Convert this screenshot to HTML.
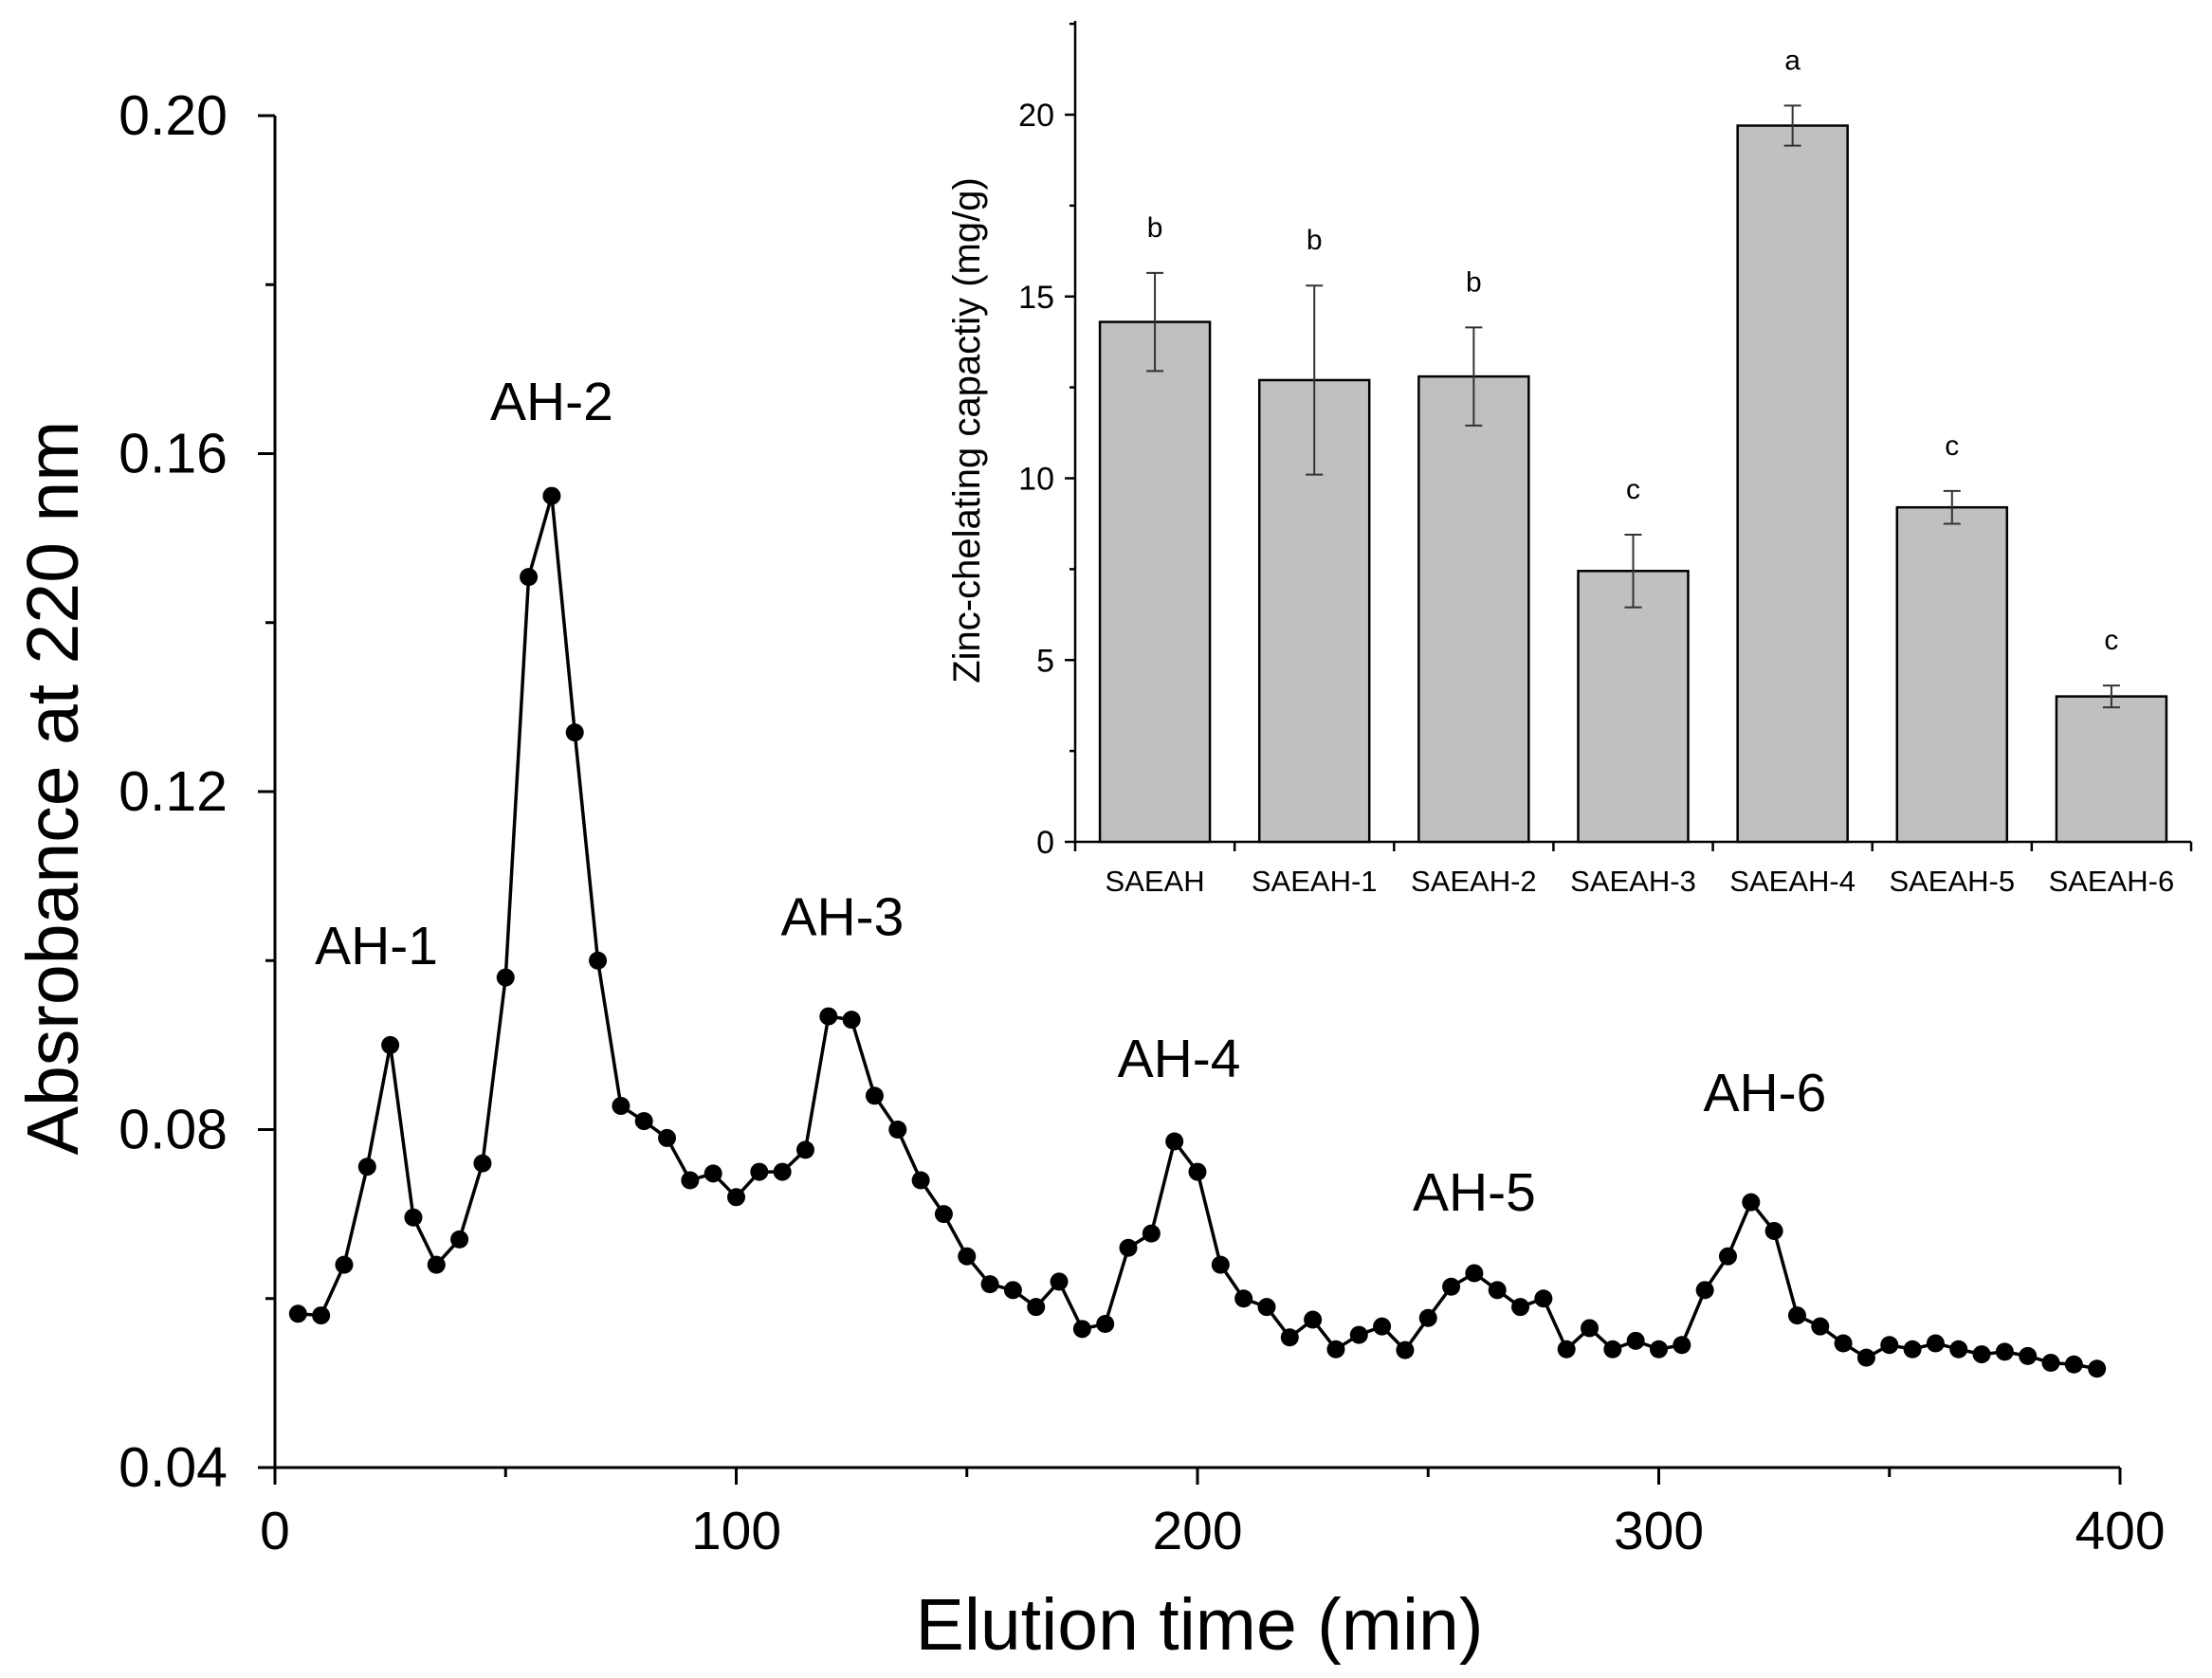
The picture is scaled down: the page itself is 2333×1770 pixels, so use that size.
<!DOCTYPE html>
<html><head><meta charset="utf-8"><style>
html,body{margin:0;padding:0;background:#fff;}
svg{display:block;font-family:"Liberation Sans",Arial,sans-serif;}
</style></head><body>
<svg id="chart" width="2333" height="1770" viewBox="0 0 2333 1770" xmlns="http://www.w3.org/2000/svg">
<g id="main"></g>
<g id="inset"></g>
</svg>
<script>
const times=[5,10,15,20,25,30,35,40,45,50,55,60,65,70,75,80,85,90,95,100,105,110,115,120,125,130,135,140,145,150,155,160,165,170,175,180,185,190,195,200,205,210,215,220,225,230,235,240,245,250,255,260,265,270,275,280,285,290,295,300,305,310,315,320,325,330,335,340,345,350,355,360,365,370,375,380,385,390,395];
const absorbance=[0.0582,0.058,0.064,0.0756,0.090,0.0696,0.064,0.067,0.076,0.098,0.1454,0.155,0.127,0.100,0.0828,0.081,0.079,0.074,0.0748,0.072,0.075,0.075,0.0776,0.0934,0.093,0.084,0.080,0.074,0.070,0.065,0.0617,0.061,0.059,0.062,0.0564,0.057,0.066,0.0677,0.0786,0.075,0.064,0.060,0.059,0.0554,0.0575,0.054,0.0557,0.0567,0.0539,0.0577,0.0614,0.063,0.061,0.059,0.060,0.054,0.0565,0.054,0.055,0.054,0.0545,0.061,0.065,0.0714,0.068,0.058,0.0567,0.0547,0.053,0.0545,0.054,0.0547,0.054,0.0534,0.0537,0.0532,0.0524,0.0522,0.0517];
const xTicks=[0,100,200,300,400];
const yTicks=[0.04,0.08,0.12,0.16,0.20];
const peakLabels=["AH-1","AH-2","AH-3","AH-4","AH-5","AH-6"];
const peakX=[22,60,123,196,260,323];
const peakY=[0.0996,0.164,0.103,0.0862,0.0704,0.0822];

const categories=["SAEAH","SAEAH-1","SAEAH-2","SAEAH-3","SAEAH-4","SAEAH-5","SAEAH-6"];
const zinc=[14.3,12.7,12.8,7.45,19.7,9.2,4.0];
const zincErr=[1.35,2.6,1.35,1.0,0.55,0.45,0.3];
const letters=["b","b","b","c","a","c","c"];
const insetTicks=[0,5,10,15,20];

const NS="http://www.w3.org/2000/svg";
function mk(parent,tag,attrs,text){const e=document.createElementNS(NS,tag);for(const k in attrs)e.setAttribute(k,attrs[k]);if(text!==undefined)e.textContent=text;parent.appendChild(e);return e;}

const X=v=>290+(v/400)*(2236-290);
const Y=v=>1548-(v-0.04)/0.16*(1548-122);
const m=document.getElementById('main');
let e;
e=mk(m,'line',{x1:X(0),y1:1548,x2:2236,y2:1548,stroke:'#000','stroke-width':3});


e=mk(m,'line',{x1:X(0),y1:1548,x2:X(0),y2:122,stroke:'#000','stroke-width':3});


for(let v=0;v<=400;v+=50){mk(m,'line',{x1:X(v),y1:1548,x2:X(v),y2:1548+(v%100?10:18),stroke:'#000','stroke-width':3});}
xTicks.forEach(v=>{e=mk(m,'text',{x:X(v),y:1634,'font-size':57,'text-anchor':'middle'},String(v));

});
for(let v=0.04;v<=0.2001;v+=0.02){const maj=Math.round(v*100)%4===0;mk(m,'line',{x1:X(0),y1:Y(v),x2:X(0)-(maj?18:10),y2:Y(v),stroke:'#000','stroke-width':3});}
yTicks.forEach(v=>{e=mk(m,'text',{x:X(0)-50,y:Y(v)+20,'font-size':59,'text-anchor':'end'},v.toFixed(2));

});
e=mk(m,'text',{x:1265,y:1740,'font-size':77,'text-anchor':'middle'},'Elution time (min)');


e=mk(m,'text',{x:0,y:0,'font-size':77,'text-anchor':'middle',transform:'translate(82,831) rotate(-90)'},'Absrobance at 220 nm');


e=mk(m,'polyline',{points:times.map((t,i)=>X(t)+','+Y(absorbance[i])).join(' '),fill:'none',stroke:'#000','stroke-width':3.5});


times.forEach((t,i)=>{e=mk(m,'circle',{cx:X(t),cy:Y(absorbance[i]),r:9.5,fill:'#000'});

});
peakLabels.forEach((l,i)=>{e=mk(m,'text',{x:X(peakX[i]),y:Y(peakY[i]),'font-size':57,'text-anchor':'middle'},l);

});

const g=document.getElementById('inset');
const L=1134,R=2311,B=888,T=22;
const IY=v=>B-v/20*(B-121);
const step=(R-L)/categories.length;
mk(g,'rect',{x:L-150,y:T-10,width:R-L+160,height:B-T+100,fill:'#fff'});
e=mk(g,'line',{x1:L,y1:B,x2:R,y2:B,stroke:'#000','stroke-width':2.5});


e=mk(g,'line',{x1:L,y1:B,x2:L,y2:T,stroke:'#000','stroke-width':2.5});


for(let v=0;v<=22.5;v+=2.5){mk(g,'line',{x1:L,y1:IY(v),x2:L-(v%5?6:11),y2:IY(v),stroke:'#000','stroke-width':2.5});}
insetTicks.forEach(v=>{e=mk(g,'text',{x:L-22,y:IY(v)+12,'font-size':34,'text-anchor':'end'},String(v));

});
e=mk(g,'text',{x:0,y:0,'font-size':40,'text-anchor':'middle',transform:'translate(1033,454) rotate(-90)'},'Zinc-chelating capactiy (mg/g)');


for(let i=0;i<=categories.length;i++){mk(g,'line',{x1:L+step*i,y1:B,x2:L+step*i,y2:B+10,stroke:'#000','stroke-width':2.5});}
categories.forEach((c,i)=>{const cx=L+step*(i+0.5),bw=116;
e=mk(g,'rect',{x:cx-bw/2,y:IY(zinc[i]),width:bw,height:B-IY(zinc[i]),fill:'#c0c0c0',stroke:'#000','stroke-width':2.5});


const t=IY(zinc[i]+zincErr[i]),b=IY(zinc[i]-zincErr[i]);
e=mk(g,'path',{d:`M${cx},${t}V${b}M${cx-9},${t}H${cx+9}M${cx-9},${b}H${cx+9}`,stroke:'#333','stroke-width':2,fill:'none'});


e=mk(g,'text',{x:cx,y:t-38,'font-size':30,'text-anchor':'middle'},letters[i]);


e=mk(g,'text',{x:cx,y:B+52,'font-size':31,'text-anchor':'middle'},c);

});
</script>
</body></html>
